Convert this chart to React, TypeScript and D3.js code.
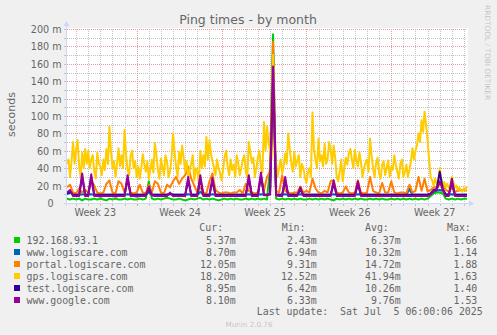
import React from "react";
import * as d3 from "d3";

const WIDTH = 497;
const HEIGHT = 335;

// time range of the graph (UTC)
const T_START = Date.UTC(2025, 5, 2, 6, 0, 0);
const T_END = Date.UTC(2025, 6, 5, 6, 0, 0);

const title = "Ping times - by month";
const yAxisLabel = "seconds";

const seriesNames = [
  "192.168.93.1",
  "www.logiscare.com",
  "portal.logiscare.com",
  "gps.logiscare.com",
  "test.logiscare.com",
  "www.google.com",
];
const seriesColors = ["#00CC00", "#0066B3", "#FF8000", "#FFCC00", "#330099", "#990099"];

// values in milliseconds, evenly spaced over the graph period (6 h steps; gps 3 h steps)
const greenValues = [
  5, 4, 5, 4, 5, 3, 5, 4, 4, 5,
  4, 5, 4, 3, 5, 4, 5, 4, 4, 5,
  4, 5, 4, 4, 5, 4, 5, 25, 5, 4,
  5, 4, 5, 6, 5, 4, 4, 5, 4, 3,
  4, 5, 4, 5, 6, 4, 5, 4, 5, 4,
  3, 4, 5, 4, 5, 4, 5, 4, 4, 5,
  4, 5, 4, 5, 4, 5, 4, 40, 194, 5,
  4, 5, 4, 5, 4, 5, 4, 5, 4, 4,
  5, 4, 5, 4, 5, 4, 5, 4, 3, 5,
  4, 5, 4, 5, 4, 5, 4, 5, 4, 4,
  5, 4, 5, 4, 5, 4, 4, 5, 4, 5,
  4, 5, 4, 5, 4, 5, 4, 5, 4, 5,
  8, 11, 12, 12, 11, 5, 4, 5, 4, 5,
  4, 5, 5,
];
const blueValues = [
  10, 12, 9.5, 9.5, 9.5, 10, 9.5, 9.5, 10, 9.5,
  9.5, 9.5, 9.5, 9.5, 9.5, 9.5, 9.5, 9.5, 9.5, 9.5,
  10, 9.5, 9.5, 9.5, 9.5, 9.5, 9.5, 12, 9.5, 9.5,
  9.5, 9.5, 9.5, 9.5, 10, 9.5, 9.5, 9.5, 9.5, 9.5,
  10, 9.5, 9.5, 9.5, 13, 9.5, 9.5, 9.5, 10, 9.5,
  9.5, 9.5, 9.5, 9.5, 9.5, 9.5, 9.5, 9.5, 9.5, 9.5,
  10, 9.5, 9.5, 9.5, 10, 9.5, 9.5, 10, 175, 9.5,
  9.5, 9.5, 10, 9.5, 9.5, 9.5, 9.5, 10, 9.5, 9.5,
  9.5, 9.5, 9.5, 9.5, 9.5, 9.5, 9.5, 9.5, 10, 9.5,
  9.5, 9.5, 9.5, 9.5, 9.5, 9.5, 10, 9.5, 9.5, 9.5,
  9.5, 9.5, 9.5, 9.5, 9.5, 9.5, 9.5, 9.5, 9.5, 9.5,
  9.5, 9.5, 9.5, 16, 9.5, 9.5, 9.5, 9.5, 9.5, 9.5,
  10, 13, 14, 15, 14, 10, 9.5, 10, 9.5, 9.5,
  9.5, 9.5, 9.5,
];
const orangeValues = [
  18, 21, 12, 11, 17, 12, 15, 12, 26, 20,
  12, 11, 12, 22, 26, 12, 11, 25, 22, 12,
  26, 12, 11, 12, 21, 12, 11, 21, 12, 25,
  22, 12, 11, 21, 18, 25, 30, 22, 28, 32,
  42, 28, 20, 12, 18, 12, 11, 25, 34, 15,
  12, 11, 12, 12, 11, 12, 12, 15, 11, 22,
  14, 12, 11, 12, 30, 14, 30, 36, 185, 14,
  12, 32, 14, 12, 11, 12, 12, 19, 12, 14,
  12, 28, 17, 12, 11, 14, 12, 25, 26, 12,
  11, 12, 19, 12, 11, 12, 26, 12, 11, 12,
  30, 14, 12, 11, 23, 12, 12, 25, 12, 11,
  12, 12, 11, 21, 12, 14, 30, 14, 28, 13,
  15, 18, 18, 22, 21, 15, 13, 17, 13, 14,
  15, 15, 14,
];
const yellowValues = [
  45, 50, 30, 48, 70, 45, 62, 72, 42, 30,
  58, 40, 62, 45, 60, 40, 50, 55, 36, 28,
  58, 45, 42, 32, 50, 38, 62, 45, 88, 60,
  40, 48, 30, 45, 63, 42, 55, 40, 84, 55,
  38, 32, 55, 60, 40, 48, 30, 42, 28, 40,
  56, 45, 36, 48, 28, 38, 50, 35, 69, 55,
  38, 28, 51, 42, 32, 55, 48, 30, 36, 52,
  80, 58, 42, 30, 59, 45, 66, 52, 36, 48,
  30, 38, 45, 55, 26, 40, 36, 25, 60, 40,
  55, 42, 76, 50, 72, 56, 48, 40, 32, 50,
  40, 35, 26, 38, 53, 60, 42, 32, 50, 38,
  44, 30, 55, 46, 32, 40, 49, 55, 36, 30,
  70, 58, 46, 52, 30, 40, 53, 60, 40, 35,
  93, 60, 88, 70, 61, 50, 170, 55, 46, 30,
  40, 50, 34, 42, 57, 45, 80, 62, 46, 36,
  59, 42, 49, 55, 30, 45, 40, 30, 23, 35,
  40, 30, 104, 62, 50, 40, 74, 48, 55, 42,
  68, 45, 50, 70, 61, 45, 66, 52, 30, 25,
  36, 50, 25, 40, 52, 44, 57, 62, 50, 40,
  61, 50, 42, 58, 47, 30, 40, 46, 50, 36,
  74, 55, 40, 30, 46, 52, 34, 28, 44, 48,
  32, 40, 49, 30, 42, 38, 55, 44, 36, 28,
  45, 50, 30, 36, 44, 30, 38, 48, 63, 50,
  60, 66, 80, 70, 95, 82, 105, 90, 72, 50,
  30, 26, 20, 28, 22, 18, 40, 28, 22, 24,
  18, 22, 17, 20, 30, 24, 18, 20, 15, 18,
  14, 13, 17, 15, 19,
];
const indigoValues = [
  11, 13, 9.5, 9.5, 9.5, 30, 9.5, 9.5, 29, 9.5,
  9.5, 9.5, 9.5, 9.5, 9.5, 9.5, 9.5, 9.5, 9.5, 9.5,
  28, 9.5, 9.5, 9.5, 9.5, 9.5, 9.5, 16, 9.5, 9.5,
  9.5, 9.5, 9.5, 9.5, 11, 9.5, 9.5, 9.5, 9.5, 9.5,
  26, 9.5, 9.5, 9.5, 28, 9.5, 9.5, 9.5, 25, 9.5,
  9.5, 9.5, 9.5, 9.5, 9.5, 9.5, 9.5, 9.5, 9.5, 9.5,
  28, 9.5, 9.5, 9.5, 31, 9.5, 9.5, 10, 150, 9.5,
  9.5, 9.5, 26, 9.5, 9.5, 9.5, 9.5, 15, 9.5, 9.5,
  9.5, 9.5, 9.5, 9.5, 9.5, 9.5, 9.5, 9.5, 22, 9.5,
  9.5, 9.5, 9.5, 9.5, 9.5, 9.5, 21, 9.5, 9.5, 9.5,
  9.5, 9.5, 9.5, 9.5, 9.5, 9.5, 9.5, 9.5, 9.5, 9.5,
  9.5, 9.5, 9.5, 9.5, 9.5, 9.5, 9.5, 9.5, 9.5, 9.5,
  11, 15, 16, 36, 16, 10, 9.5, 24, 9.5, 9.5,
  9.5, 9.5, 9.5,
];
const purpleValues = [
  12, 15, 8, 8, 8, 34, 8, 8, 33, 8,
  8, 7.5, 8, 8, 8, 8, 7.5, 8, 8, 8,
  32, 8, 8, 7.5, 8, 8, 8, 19, 9, 8,
  8, 8, 8, 8, 12, 8, 8, 8, 8, 8,
  30, 8, 8, 8, 32, 8, 8, 8, 29, 8,
  8, 8, 8, 8, 8, 8, 8, 8, 8, 8,
  32, 8, 8, 8, 35, 9, 9, 10, 157, 9,
  8, 8, 30, 8, 8, 8, 8, 18, 8, 8,
  8, 8, 8, 8, 8, 8, 8, 8, 26, 8,
  8, 8, 8, 8, 8, 8, 25, 8, 8, 8,
  8, 8, 8, 8, 8, 8, 8, 8, 8, 8,
  8, 8, 8, 8, 8, 8, 8, 8, 8, 8,
  10, 14, 15, 25, 15, 8, 8, 28, 8, 8,
  8, 8, 8,
];
const seriesValues = [greenValues, blueValues, orangeValues, yellowValues, indigoValues, purpleValues];

const yMajorTicks = [0, 20, 40, 60, 80, 100, 120, 140, 160, 180, 200];
const yMinorTicks = [10, 30, 50, 70, 90, 110, 130, 150, 170, 190];
const yTickLabels = ["0", "20 m", "40 m", "60 m", "80 m", "100 m", "120 m", "140 m", "160 m", "180 m", "200 m"];

const legendCur = ["5.37m", "8.70m", "12.05m", "18.20m", "8.95m", "8.10m"];
const legendMin = ["2.43m", "6.94m", "9.31m", "12.52m", "6.42m", "6.33m"];
const legendAvg = ["6.37m", "10.32m", "14.72m", "41.94m", "10.26m", "9.76m"];
const legendMax = ["1.66", "1.14", "1.88", "1.63", "1.40", "1.53"];
const legendHeaders = ["Cur:", "Min:", "Avg:", "Max:"];
const lastUpdate = "Last update:  Sat Jul  5 06:00:06 2025";
const watermark = "Munin 2.0.76";
const sideText = "RRDTOOL / TOBI OETIKER";

const FONT_COLOR = "#666666";
const AXIS_COLOR = "#CFD6F8";
const GRID_COLOR = "#c4c4c4";
const MGRID_COLOR = "#e99a9a";
const SANS = "'DejaVu Sans', Verdana, sans-serif";
const MONO = "'DejaVu Sans Mono', monospace";

export default function App() {
  const x = d3.scaleUtc().domain([new Date(T_START), new Date(T_END)]).range([67, 467]);
  const y = d3.scaleLinear().domain([0, 200]).range([203, 29]);

  const timesFor = (vals: number[]) => {
    const step = (T_END - T_START) / (vals.length - 1);
    return vals.map((_, i) => new Date(T_START + i * step));
  };

  const pathFor = (vals: number[]) => {
    const times = timesFor(vals);
    return (
      d3
        .line<number>()
        .x((_, i) => x(times[i]))
        .y((d) => y(d))(vals) || ""
    );
  };

  const [x0, x1] = x.range();
  const [yb, yt] = y.range();
  const snap = (v: number) => Math.round(v) + 0.5;

  const days = d3.utcDay.range(new Date(T_START), new Date(T_END));
  const weeks = d3.utcSunday.range(new Date(T_START), new Date(T_END));
  const weekLabels = d3.utcSunday
    .range(d3.utcSunday.floor(new Date(T_START)), new Date(T_END))
    .map((d) => new Date(d.getTime() + 3.5 * 86400000))
    .filter((d) => d.getTime() < T_END);
  const fmtWeek = d3.utcFormat("%V");

  const legendTop = 243.5;
  const rowH = 12;
  const headerX = [199.3, 281.7, 365, 447];
  const colEnds = [235.7, 316.7, 400.7, 477.3];
  const cols = [legendCur, legendMin, legendAvg, legendMax];

  return (
    <svg
      width={WIDTH}
      height={HEIGHT}
      viewBox={`0 0 ${WIDTH} ${HEIGHT}`}
      style={{ position: "absolute", left: 0, top: 0, display: "block" }}
    >
      <defs>
        <clipPath id="plotClip">
          <rect x={x0} y={yt - 1} width={x1 - x0 + 1} height={yb - yt + 1} />
        </clipPath>
      </defs>
      <rect x={0} y={0} width={WIDTH} height={HEIGHT} fill="#F0F0F0" />
      <rect x={x0} y={yt - 1} width={x1 - x0 + 1} height={yb - yt + 1} fill="#FFFFFF" />

      {/* minor grid */}
      <g stroke={GRID_COLOR} strokeWidth={1} strokeDasharray="1,1" shapeRendering="crispEdges">
        {yMinorTicks.map((v) => (
          <line key={"hy" + v} x1={x0} x2={x1} y1={snap(y(v))} y2={snap(y(v))} />
        ))}
        {days
          .filter((d) => !weeks.some((w) => w.getTime() === d.getTime()))
          .map((d) => (
            <line key={"vx" + d.getTime()} x1={snap(x(d))} x2={snap(x(d))} y1={yt} y2={yb} />
          ))}
      </g>
      {/* major grid */}
      <g stroke={MGRID_COLOR} strokeWidth={1} strokeDasharray="1,1" shapeRendering="crispEdges">
        {yMajorTicks
          .filter((v) => v > 0)
          .map((v) => (
            <line key={"my" + v} x1={x0} x2={x1} y1={snap(y(v))} y2={snap(y(v))} />
          ))}
        {weeks.map((d) => (
          <line key={"mx" + d.getTime()} x1={snap(x(d))} x2={snap(x(d))} y1={yt} y2={yb} />
        ))}
      </g>
      {/* tick marks */}
      <g stroke={GRID_COLOR} strokeWidth={1} shapeRendering="crispEdges">
        {[...yMajorTicks, ...yMinorTicks].map((v) => (
          <line key={"ty" + v} x1={x0 - 3} x2={x0} y1={snap(y(v))} y2={snap(y(v))} />
        ))}
        {days.map((d) => (
          <line key={"tx" + d.getTime()} x1={snap(x(d))} x2={snap(x(d))} y1={yb} y2={yb + 3} />
        ))}
      </g>
      <g stroke={MGRID_COLOR} strokeWidth={1} shapeRendering="crispEdges">
        {weeks.map((d) => (
          <line key={"tw" + d.getTime()} x1={snap(x(d))} x2={snap(x(d))} y1={yb} y2={yb + 3} />
        ))}
      </g>

      {/* series, drawn in munin order */}
      <g clipPath="url(#plotClip)" fill="none" strokeWidth={2} strokeLinejoin="round">
        {seriesValues.map((vals, k) => (
          <path key={seriesNames[k]} d={pathFor(vals)} stroke={seriesColors[k]} />
        ))}
      </g>

      {/* axes with arrows */}
      <g shapeRendering="crispEdges" stroke={AXIS_COLOR} strokeWidth={1}>
        <line x1={x0 - 3} x2={x1 + 4} y1={snap(yb)} y2={snap(yb)} />
        <line x1={snap(x0 - 1)} x2={snap(x0 - 1)} y1={yb + 3} y2={yt - 5} />
      </g>
      <path d={`M${x1 + 2},${yb - 2.5} L${x1 + 7},${yb + 0.5} L${x1 + 2},${yb + 3.5} Z`} fill={AXIS_COLOR} />
      <path d={`M${x0 - 3.5},${yt - 3} L${x0 - 0.5},${yt - 8} L${x0 + 2.5},${yt - 3} Z`} fill={AXIS_COLOR} />

      {/* axis labels */}
      <g fontFamily={SANS} fontSize={9.6} fill={FONT_COLOR}>
        {yMajorTicks.map((v, i) => (
          <text key={"yl" + v} x={v === 0 ? 53.5 : 61.5} y={Math.round(y(v)) + 3.8} textAnchor="end">
            {yTickLabels[i]}
          </text>
        ))}
        {weekLabels.map((d) => (
          <text key={"wl" + d.getTime()} x={x(d) + 1} y={216} textAnchor="middle">
            {"Week " + +fmtWeek(d)}
          </text>
        ))}
      </g>

      {/* title and unit label */}
      <text x={248} y={23.5} textAnchor="middle" fontFamily={SANS} fontSize={12.5} fill={FONT_COLOR}>
        {title}
      </text>
      <text
        transform={`translate(15,114.5) rotate(-90)`}
        textAnchor="middle"
        fontFamily={SANS}
        fontSize={11}
        fill={FONT_COLOR}
      >
        {yAxisLabel}
      </text>
      <text
        transform={`translate(485.2,5) rotate(90)`}
        fontFamily={SANS}
        fontSize={7.4}
        fill={FONT_COLOR}
        fillOpacity={0.35}
      >
        {sideText}
      </text>

      {/* legend */}
      <g fontFamily={MONO} fontSize={9.9} fill={FONT_COLOR} style={{ whiteSpace: "pre" }}>
        {legendHeaders.map((h, j) => (
          <text key={h} x={headerX[j]} y={231}>
            {h}
          </text>
        ))}
        {seriesNames.map((name, k) => (
          <g key={"lg" + name}>
            <rect x={14} y={legendTop + k * rowH - 6.5} width={6} height={6} fill={seriesColors[k]} />
            <text x={26.5} y={legendTop + k * rowH}>
              {name}
            </text>
            {cols.map((col, j) => (
              <text key={j} x={colEnds[j]} y={legendTop + k * rowH} textAnchor="end">
                {col[k]}
              </text>
            ))}
          </g>
        ))}
        <text x={482.7} y={315} textAnchor="end" xmlSpace="preserve">
          {lastUpdate}
        </text>
      </g>
      <text x={249} y={326.5} textAnchor="middle" fontFamily={SANS} fontSize={7.2} fill={FONT_COLOR} fillOpacity={0.35}>
        {watermark}
      </text>
    </svg>
  );
}
